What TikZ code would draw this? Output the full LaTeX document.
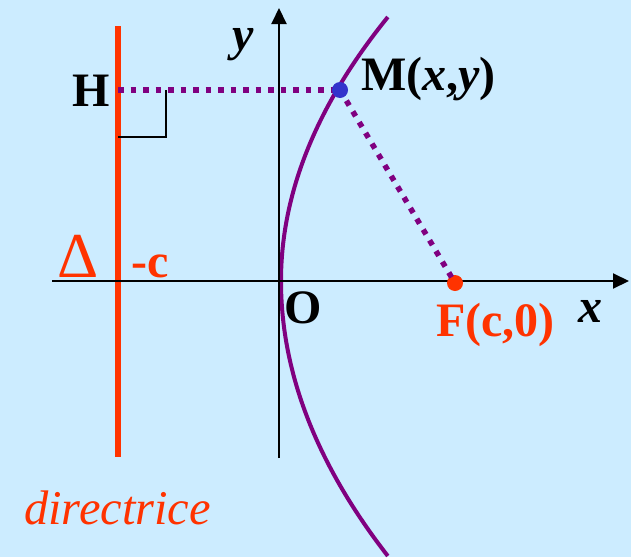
\documentclass[tikz,border=0pt]{standalone}
\usepackage{fontspec}
\setmainfont{Liberation Serif}
\usetikzlibrary{arrows.meta}
\definecolor{bgblue}{HTML}{CCECFF}
\definecolor{redo}{HTML}{FF3300}
\definecolor{purp}{HTML}{800080}
\definecolor{bluedot}{HTML}{3333CC}
\tikzset{
  lbl/.style={inner sep=0pt, anchor=base west, font=\fontsize{48}{52}\selectfont\bfseries},
  axisline/.style={line width=2pt, -{Triangle[length=16pt,width=15pt]}},
  dotline/.style={purp, line width=5.5pt, dash pattern=on 5.5pt off 7pt},
  pointdot/.style={circle, inner sep=0pt, minimum size=16pt},
}
\begin{document}
\begin{tikzpicture}[x=1pt,y=-1pt]
\fill[bgblue] (0,0) rectangle (631,557);
\useasboundingbox (0,0) rectangle (631,557);
% parabola
\draw[purp, line width=4pt] plot[domain=-264:0, samples=50, smooth] ({281+(0.03915*\x)*(0.03915*\x)}, {281+\x})
  -- plot[domain=0:275, samples=50, smooth] ({281+(0.03758*\x)*(0.03758*\x)}, {281+\x});
% directrix
\coordinate (Dtop) at (118,26);
\coordinate (Dbot) at (118,457);
\draw[redo, line width=6pt] (Dtop) -- (Dbot);
% axes
\coordinate (xs) at (52,281);
\coordinate (xe) at (629,281);
\coordinate (ys) at (279,458);
\coordinate (ye) at (279,8);
\draw[axisline] (xs) -- (xe);
\draw[axisline] (ys) -- (ye);
% right angle mark
\coordinate (Hpt) at (118,90);
\coordinate (ra1) at (118,137);
\coordinate (ra2) at (166,137);
\coordinate (ra3) at (166,90);
\draw[line width=1.5pt] (ra1) -- (ra2) -- (ra3);
% points
\node[pointdot, fill=redo] (F) at (455,283) {};
\coordinate (Mc) at (340,90);
\draw[dotline] (Hpt) -- (Mc);
\draw[dotline] (Mc) -- (F.center);
\node[pointdot, fill=bluedot] (M) at (Mc) {};
% labels
\node[lbl] (Hl) at (72,106) {H};
\node[lbl] (Ml) at (361,90) {M(\textit{x},\textit{y})};
\node[lbl] (yl) at (232,50) {\textit{y}};
\node[inner sep=0pt, anchor=base west, text=redo, font=\fontsize{64}{70}\selectfont] (Dl) at (57,277) {Δ};
\node[lbl, text=redo] (cl) at (131,277) {-c};
\node[lbl] (Ol) at (284,323) {O};
\node[lbl, text=redo] (Fl) at (436,336) {F(c,0)};
\node[lbl] (xl) at (578,322) {\textit{x}};
\node[inner sep=0pt, anchor=base west, text=redo, font=\fontsize{48.5}{52}\selectfont\itshape] (dl) at (24,524) {directrice};
\end{tikzpicture}
\end{document}
